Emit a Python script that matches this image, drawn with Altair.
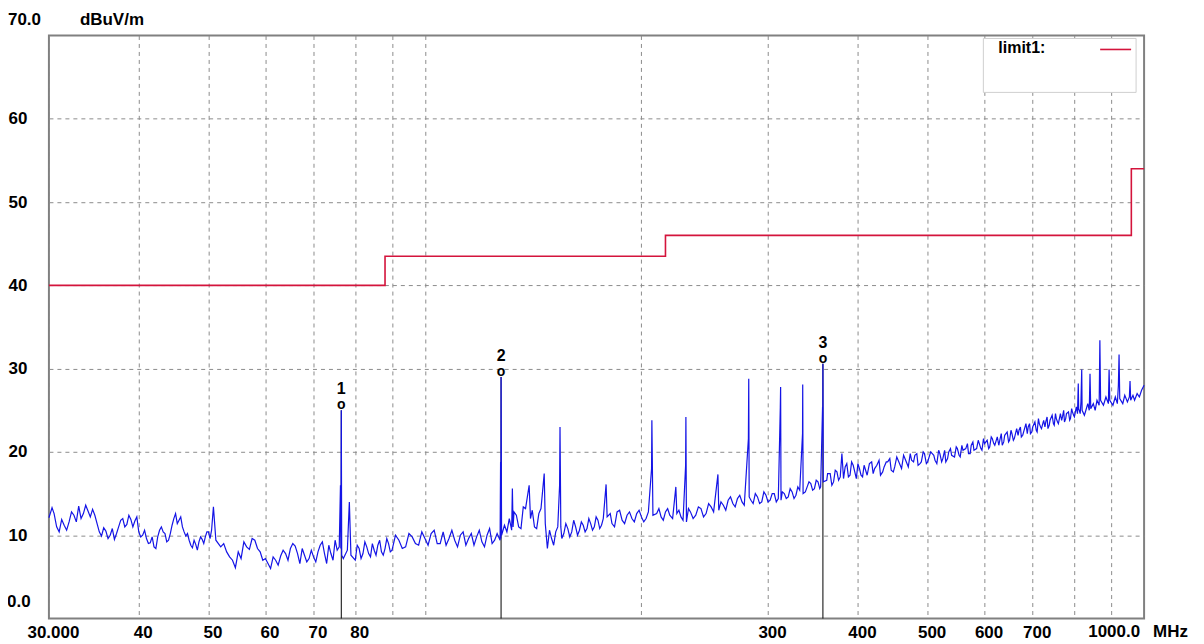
import altair as alt
import pandas as pd

# ---------------- data ----------------
# main readings of the measured trace (MHz, dBuV/m)
noise_freq = [
    30.0, 30.3, 30.5, 31.0, 31.5, 32.0, 32.5, 33.0, 33.5, 34.0, 34.5, 35.0, 35.5, 36.0, 36.5,
    37.0, 37.5, 38.0, 38.5, 39.0, 39.5, 40.0, 40.5, 41.0, 41.5, 42.0, 42.5, 43.0, 43.5, 44.0,
    44.5, 45.0, 45.5, 46.0, 46.5, 47.0, 47.5, 48.0, 48.5, 49.0, 49.5, 50.0, 50.5, 50.8, 51.2,
    52.0, 53.0, 54.0, 54.5, 55.0, 56.0, 57.0, 58.0, 59.0, 60.0, 61.0, 62.0, 63.0, 64.0, 65.0,
    66.0, 67.0, 68.0, 69.0, 70.0, 71.0, 72.0, 73.0, 74.0, 75.0, 76.0, 76.3, 76.4, 76.5, 76.6,
    77.0, 78.0, 78.5, 78.9, 80.0, 81.0, 82.0, 83.0, 84.0, 85.0, 86.0, 87.0, 88.0, 89.0, 90.0,
    92.0, 94.0, 96.0, 98.0, 100.0, 102.0, 104.0, 106.0, 108.0, 110.0, 112.0, 114.0, 116.0, 118.0,
    120.0, 122.0, 124.0, 126.0, 127.2, 127.4, 127.5, 127.6, 127.8, 129.0, 130.0, 131.0, 132.0,
    132.3, 132.6, 134.0, 136.0, 138.0, 139.6, 140.2, 142.0, 144.0, 146.5, 147.0, 148.0, 150.0,
    152.0, 153.9, 154.1, 154.5, 156.0, 158.0, 160.0, 162.0, 164.0, 166.0, 168.0, 170.0, 172.0,
    174.0, 176.0, 178.6, 179.2, 182.0, 185.0, 188.0, 191.0, 194.0, 197.0, 200.0, 203.0, 206.6,
    206.8, 207.5, 210.0, 213.0, 216.0, 219.0, 223.3, 224.0, 227.0, 230.4, 230.6, 231.0, 234.0,
    238.0, 242.0, 246.0, 250.0, 255.5, 256.2, 260.0, 264.0, 268.0, 272.0, 276.0, 281.7, 282.0,
    282.4, 286.0, 290.0, 294.0, 298.0, 302.0, 306.0, 310.0, 312.0, 312.3, 312.7, 316.0, 320.0,
    324.0, 328.0, 332.0, 335.0, 335.2, 335.6, 340.0, 344.0, 348.0, 352.0, 355.0, 357.2, 357.4,
    357.6, 358.0, 362.0, 366.0, 370.0, 374.0, 378.0, 380.0, 382.0, 386.0, 390.0, 394.0, 398.0,
    402.0, 406.0, 410.0, 415.0, 420.0, 425.0, 430.0, 435.0, 440.0, 445.0, 450.0, 455.0, 460.0,
    465.0, 470.0, 475.0, 480.0, 485.0, 490.0, 495.0, 500.0, 510.0, 515.0, 520.0, 525.0, 530.0,
    535.0, 540.0, 550.0, 555.0, 560.0, 570.0, 575.0, 580.0, 590.0, 595.0, 600.0, 610.0, 615.0,
    620.0, 630.0, 635.0, 640.0, 650.0, 655.0, 660.0, 670.0, 675.0, 680.0, 690.0, 695.0, 700.0,
    710.0, 715.0, 720.0, 730.0, 735.0, 740.0, 750.0, 755.0, 760.0, 770.0, 775.0, 780.0, 790.0,
    795.0, 800.0, 805.0, 808.0, 810.0, 811.0, 815.0, 817.0, 819.0, 820.0, 826.0, 830.0, 835.0,
    839.0, 841.0, 843.0, 850.0, 855.0, 860.0, 866.0, 868.0, 870.0, 878.0, 885.0, 892.0, 894.0,
    896.0, 905.0, 912.0, 918.0, 921.0, 923.0, 925.0, 934.0, 940.0, 948.0, 954.0, 956.0, 958.0,
    965.0, 970.0, 978.0, 985.0, 992.0, 1000.0,
]
noise_level = [
    12.1, 13.3, 12.6, 10.4, 11.2, 11.6, 12.4, 13.5, 12.6, 12.9, 13.1, 11.4, 9.9, 10.5, 10.0,
    9.5, 11.0, 12.0, 11.3, 11.9, 11.7, 10.4, 10.0, 9.6, 9.1, 8.6, 9.8, 11.0, 10.2, 9.4,
    11.2, 12.6, 11.8, 11.0, 9.9, 9.4, 8.5, 8.9, 9.2, 9.5, 9.8, 10.4, 10.6, 13.4, 9.4,
    8.6, 8.0, 7.0, 6.1, 8.0, 9.2, 8.3, 9.4, 8.0, 7.2, 6.0, 7.0, 7.5, 7.8, 8.4,
    8.7, 6.6, 7.6, 7.2, 7.4, 8.0, 9.2, 6.6, 7.8, 9.4, 8.6, 16.0, 8.4, 25.0, 7.6,
    7.2, 8.2, 14.0, 7.6, 7.0, 8.4, 7.8, 8.6, 7.4, 8.2, 8.8, 8.0, 8.4, 9.0, 8.2,
    9.4, 8.6, 9.8, 8.8, 9.6, 10.2, 9.0, 10.4, 9.6, 9.4, 10.0, 8.8, 10.2, 9.8,
    9.2, 10.0, 9.0, 10.2, 9.4, 18.8, 9.6, 29.0, 10.0, 11.2, 10.4, 12.0, 10.6,
    15.6, 11.0, 12.4, 10.8, 13.2, 16.0, 12.0, 11.0, 12.6, 17.4, 11.4, 8.4, 9.6,
    10.4, 16.0, 23.0, 11.0, 10.2, 10.8, 10.4, 11.0, 10.6, 11.2, 10.8, 11.4, 11.0,
    11.8, 11.2, 16.1, 12.2, 11.4, 12.8, 11.8, 12.4, 12.0, 12.6, 12.2, 12.0, 18.0,
    23.8, 12.4, 12.6, 12.2, 12.8, 12.4, 15.8, 12.6, 12.2, 18.4, 24.2, 11.6, 12.8,
    12.4, 13.2, 12.6, 13.4, 17.3, 13.0, 13.6, 14.2, 13.8, 14.4, 14.0, 21.6, 28.8,
    14.6, 13.8, 14.6, 14.0, 14.8, 14.2, 15.0, 14.4, 25.4, 27.8, 14.2, 15.0, 14.6,
    15.2, 14.8, 15.4, 22.2, 28.1, 15.0, 15.8, 16.2, 15.6, 16.4, 15.8, 25.4, 22.8,
    30.6, 16.4, 16.6, 17.4, 16.4, 17.6, 17.0, 19.8, 16.8, 18.6, 17.2, 18.4, 16.8,
    18.0, 17.0, 17.8, 18.6, 17.4, 18.4, 17.2, 18.2, 18.8, 17.8, 18.2, 19.0, 18.0,
    19.2, 18.2, 19.0, 19.6, 18.4, 18.8, 19.8, 18.8, 19.6, 18.6, 19.8, 19.2, 18.8,
    20.0, 19.6, 20.4, 19.4, 20.2, 19.8, 20.8, 20.2, 21.0, 20.2, 21.0, 20.6, 21.6,
    20.8, 21.4, 20.8, 22.0, 21.4, 22.2, 21.6, 22.6, 21.8, 22.4, 23.0, 22.2, 23.0,
    22.4, 23.4, 22.8, 23.6, 22.8, 23.8, 23.2, 24.0, 23.4, 24.2, 23.6, 24.6, 24.0,
    24.8, 24.2, 25.4, 24.6, 28.2, 25.2, 24.6, 26.0, 29.9, 25.0, 24.4, 25.0, 25.8,
    25.0, 29.4, 25.2, 25.8, 25.0, 26.2, 25.6, 33.4, 26.2, 25.6, 26.6, 25.8, 29.9,
    26.2, 25.6, 26.6, 25.8, 28.0, 31.7, 26.4, 25.8, 26.8, 26.0, 26.6, 28.5, 26.2,
    26.8, 26.2, 27.0, 26.6, 27.4, 28.0,
]

# extra in-between readings of the same trace (finer noise detail)
fine_freq = [
    30.75, 31.25, 31.75, 32.25, 32.75, 33.25, 33.75, 34.25, 34.75, 35.25, 35.75, 36.25, 36.75,
    37.25, 37.75, 38.25, 38.75, 39.25, 39.75, 40.25, 40.75, 41.25, 41.75, 42.25, 42.75, 43.25,
    43.75, 44.25, 44.75, 45.25, 45.75, 46.25, 46.75, 47.25, 47.75, 48.25, 48.75, 49.25, 49.75,
    50.25,
    52.5, 53.5, 55.5, 56.5, 57.5, 58.5, 59.5, 60.5, 61.5, 62.5, 63.5, 64.5, 65.5, 66.5, 67.5,
    68.5, 69.5, 70.5, 71.5, 72.5, 73.5, 74.5, 75.5,
    80.5, 81.5, 82.5, 83.5, 84.5, 85.5, 86.5, 87.5, 88.5, 89.5, 91.0, 93.0, 95.0, 97.0, 99.0,
    101.0, 103.0, 105.0, 107.0, 109.0, 111.0, 113.0, 115.0, 117.0, 119.0, 121.0, 123.0, 125.0,
    133.0, 135.0, 137.0, 141.0, 143.0, 145.0, 149.0, 151.0, 153.0, 155.0, 157.0, 159.0,
    161.0, 163.0, 165.0, 167.0, 169.0, 171.0, 173.0, 175.0, 177.0, 181.0, 183.5, 186.5, 189.5,
    192.5, 195.5, 198.5, 201.5, 204.5, 211.5, 214.5, 217.5, 221.0, 225.5, 228.5, 232.5, 236.0,
    240.0, 244.0, 248.0, 252.0, 258.0, 262.0, 266.0, 270.0, 274.0, 278.0, 284.0, 288.0, 292.0,
    296.0, 300.0, 304.0, 308.0, 314.0, 318.0, 322.0, 326.0, 330.0, 338.0, 342.0, 346.0, 350.0,
    354.0, 363.0, 368.0, 372.0, 376.0, 384.0, 388.0, 392.0, 396.0, 400.0, 404.0, 408.0, 412.0,
    418.0, 422.0, 428.0, 433.0, 438.0, 443.0, 448.0, 453.0, 458.0, 463.0, 468.0, 473.0, 478.0,
    483.0, 488.0, 493.0, 498.0, 505.0, 512.0, 518.0, 523.0, 528.0, 533.0, 538.0, 545.0, 548.0,
    553.0, 558.0, 565.0, 568.0, 573.0, 578.0, 585.0, 588.0, 593.0, 598.0, 605.0, 608.0, 613.0,
    618.0, 625.0, 628.0, 633.0, 638.0, 645.0, 648.0, 653.0, 658.0, 665.0, 668.0, 673.0, 678.0,
    685.0, 688.0, 693.0, 698.0, 705.0, 708.0, 713.0, 718.0, 725.0, 728.0, 733.0, 738.0, 745.0,
    748.0, 753.0, 758.0, 765.0, 768.0, 773.0, 778.0, 785.0, 788.0, 793.0, 798.0,
]
fine_level = [
    11.0, 11.9, 10.6, 12.8, 11.6, 12.0, 13.6, 12.2, 12.4, 10.4, 10.9, 9.6, 10.8,
    10.2, 11.8, 11.0, 12.4, 11.0, 12.2, 9.8, 10.6, 9.0, 9.8, 8.4, 10.6, 10.4,
    9.2, 10.2, 12.0, 11.4, 12.2, 10.4, 10.2, 8.8, 9.4, 8.2, 9.8, 9.0, 10.4,
    9.6,
    9.0, 7.4, 7.2, 8.6, 9.6, 8.4, 7.0, 6.6, 7.4, 6.4, 8.2, 7.0, 9.0, 7.8, 8.4,
    6.8, 8.2, 6.8, 8.8, 7.8, 8.8, 7.0, 8.2,
    8.8, 7.2, 9.2, 7.8, 9.0, 7.6, 9.4, 7.6, 9.6, 8.0, 10.0, 8.4, 10.2, 9.0, 10.4,
    8.8, 10.6, 9.0, 8.8, 10.6, 8.6, 10.4, 9.6, 8.8, 10.6, 8.6, 10.8, 9.4,
    12.8, 11.0, 13.4, 13.0, 10.8, 13.2, 10.6, 8.8, 11.0, 9.6, 11.4, 9.8,
    11.8, 10.0, 11.6, 10.4, 12.0, 10.6, 12.2, 10.8, 12.0, 12.6, 11.0, 13.0, 11.4,
    12.8, 11.6, 13.0, 11.6, 12.8, 13.2, 11.8, 13.2, 12.0, 13.0, 11.8, 13.2, 12.0,
    13.4, 12.2, 13.8, 12.8, 14.0, 13.0, 14.6, 13.4, 14.8, 13.6, 14.2, 15.0, 13.8,
    15.2, 14.0, 15.0, 14.0, 15.2, 14.4, 15.6, 14.4, 15.8, 15.2, 16.4, 15.4, 16.6,
    15.6, 17.4, 16.0, 17.8, 16.6, 18.2, 17.0, 18.8, 17.6, 18.6, 17.2, 18.4, 17.2,
    18.8, 18.0, 19.0, 17.6, 18.8, 19.2, 17.6, 19.4, 18.4, 19.6, 18.6, 19.8, 18.8,
    19.8, 18.6, 20.0, 18.6, 20.0, 19.0, 20.2, 18.8, 20.2, 19.2, 20.4, 19.4, 20.6,
    19.6, 20.8, 20.4, 21.0, 19.8, 21.2, 20.4, 21.4, 20.4, 21.6, 21.4, 20.4, 21.8,
    21.0, 21.8, 20.8, 22.2, 21.2, 22.4, 21.2, 22.6, 21.4, 22.8, 22.0, 23.0, 22.0,
    23.4, 22.2, 23.4, 22.4, 23.6, 22.6, 24.0, 23.0, 23.8, 23.0, 24.2, 23.2, 24.4,
    23.4, 24.6, 23.6, 24.6, 23.8, 25.0, 24.0, 24.8, 23.8, 25.2, 24.4,
]

limit_freq = [30.0, 88.0, 216.0, 960.0, 1000.0]
limit_level = [40.0, 43.5, 46.0, 54.0, 54.0]

marker_freq = [76.5, 127.6, 357.6]
marker_level = [25.0, 29.0, 30.6]
marker_label = ["1", "2", "3"]

x_grid_values = [30, 40, 50, 60, 70, 80, 90, 100, 200, 300, 400, 500, 600, 700, 800, 900]
x_tick_values = [30, 40, 50, 60, 70, 80, 300, 400, 500, 600, 700]
x_tick_texts = ["30.000", "40", "50", "60", "70", "80", "300", "400", "500", "600", "700"]
y_tick_values = [10, 20, 30, 40, 50, 60]

FONT = "Liberation Sans, Arial, sans-serif"
BLUE = "#1414e6"
RED = "#d4143c"

# ---------------- frames ----------------
trace = pd.DataFrame({"freq": noise_freq + fine_freq, "level": noise_level + fine_level})
trace = trace.sort_values("freq").reset_index(drop=True)
limit = pd.DataFrame({"freq": limit_freq, "level": limit_level})
markers = pd.DataFrame({"freq": marker_freq, "level": marker_level,
                        "label": marker_label, "base": [0.0] * len(marker_freq)})

label_expr = "".join(
    f"datum.value == {v} ? '{t}' : " for v, t in zip(x_tick_values, x_tick_texts)
) + "''"

xscale = alt.Scale(type="log", domain=[30, 1000], nice=False)
yscale = alt.Scale(domain=[0, 70], nice=False, zero=False)

x_enc = alt.X(
    "freq:Q", scale=xscale, title=None,
    axis=alt.Axis(values=x_grid_values, labelExpr=label_expr, grid=True, ticks=False,
                  domain=False, labelOffset=4, labelPadding=6, labelOverlap=False,
                  labelFlush=False, labelBaseline="top"),
)
y_enc = alt.Y(
    "level:Q", scale=yscale, title=None,
    axis=alt.Axis(values=y_tick_values, grid=True, ticks=False, domain=False,
                  labelAlign="left", labelPadding=41, labelBaseline="middle",
                  format="d"),
)

one = alt.Data(values=[{}])

limit_line = alt.Chart(limit).mark_line(
    color=RED, strokeWidth=1.6, interpolate="step-after"
).encode(x=x_enc, y=y_enc)

marker_rules = alt.Chart(markers).mark_rule(color="black", strokeWidth=1).encode(
    x="freq:Q", y="base:Q", y2="level:Q"
)

trace_line = alt.Chart(trace).mark_line(color=BLUE, strokeWidth=1.2).encode(
    x="freq:Q", y="level:Q"
)

marker_o = alt.Chart(markers).mark_text(
    text="o", font=FONT, fontSize=14, fontWeight="bold", baseline="alphabetic", dy=-1,
    color="black"
).encode(x="freq:Q", y="level:Q")

marker_num = alt.Chart(markers).mark_text(
    font=FONT, fontSize=16, fontWeight="bold", baseline="alphabetic", dy=-16,
    color="black"
).encode(x="freq:Q", y="level:Q", text="label:N")

# legend box (top right)
legend_box = alt.Chart(one).mark_rect(
    fill="white", stroke="#cfcfcf", strokeWidth=1
).encode(x=alt.value(936), x2=alt.value(1089), y=alt.value(3), y2=alt.value(57))
legend_text = alt.Chart(one).mark_text(
    text="limit1:", font=FONT, fontSize=16, fontWeight="bold", align="left",
    baseline="middle", color="black"
).encode(x=alt.value(951), y=alt.value(13))
legend_sample = alt.Chart(one).mark_rule(color=RED, strokeWidth=1.6).encode(
    x=alt.value(1053), x2=alt.value(1084), y=alt.value(14)
)

# axis end texts
top_val = alt.Chart(one).mark_text(
    text="70.0", font=FONT, fontSize=17, fontWeight="bold", align="left",
    baseline="middle", dy=-16, color="black"
).encode(x=alt.value(-41), y=alt.datum(70))
unit_y = alt.Chart(one).mark_text(
    text="dBuV/m", font=FONT, fontSize=17, fontWeight="bold", align="left",
    baseline="middle", dy=-16, color="black"
).encode(x=alt.value(31), y=alt.datum(70))
zero_val = alt.Chart(one).mark_text(
    text="0.0", font=FONT, fontSize=17, fontWeight="bold", align="left",
    baseline="middle", dy=-17, color="black"
).encode(x=alt.value(-42), y=alt.datum(0))
end_val = alt.Chart(one).mark_text(
    text="1000.0", font=FONT, fontSize=17, fontWeight="bold", align="right",
    baseline="top", dx=-4, dy=6, color="black"
).encode(x=alt.datum(1000), y=alt.datum(0))
unit_x = alt.Chart(one).mark_text(
    text="MHz", font=FONT, fontSize=17, fontWeight="bold", align="left",
    baseline="top", dx=9, dy=6, color="black"
).encode(x=alt.datum(1000), y=alt.datum(0))

chart = alt.layer(
    limit_line, legend_box, legend_text, legend_sample, marker_rules, trace_line,
    marker_o, marker_num, top_val, unit_y, zero_val, end_val, unit_x,
).properties(
    width=1097, height=584,
    autosize=alt.AutoSizeParams(type="none"),
    padding={"left": 41, "top": 27, "right": 52, "bottom": 25},
    background="white",
).configure_view(
    stroke="#808080", strokeWidth=2
).configure_axis(
    gridColor="#8c8c8c", gridDash=[4, 4], gridWidth=1, gridOpacity=1,
    labelFont=FONT, labelFontSize=17, labelFontWeight="bold", labelColor="black",
)

chart.save("out.html", embed_options={"renderer": "svg", "actions": False})
